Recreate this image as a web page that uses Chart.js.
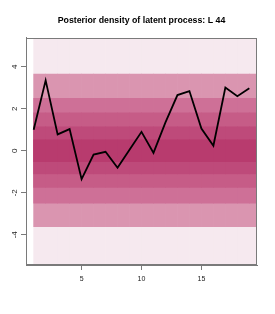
<!DOCTYPE html>
<html>
<head>
<meta charset="utf-8">
<script src="https://cdn.jsdelivr.net/npm/chart.js@4/dist/chart.umd.min.js"></script>
<style>
  html, body { margin: 0; padding: 0; background: #fff; }
  #wrap { width: 275px; height: 314px; }
</style>
</head>
<body>
<div id="wrap"><canvas id="myChart" width="275" height="314"></canvas></div>
<script>
// time points of the latent process
var tiempos = [1, 2, 3, 4, 5, 6, 7, 8, 9, 10, 11, 12, 13, 14, 15, 16, 17, 18, 19];
// observed path (black line)
var latente = [1.0, 3.35, 0.78, 1.03, -1.35, -0.18, -0.05, -0.81, 0.05, 0.9, -0.1, 1.35, 2.65, 2.84, 1.06, 0.24, 3.01, 2.6, 2.97];
// nested posterior density bands, outermost first: lower and upper edges
var bandaInf = [-6, -3.62, -2.5, -1.75, -1.1, -0.52];
var bandaSup = [6, 3.65, 2.5, 1.8, 1.14, 0.52];
// tick labels
var ticksX = [5, 10, 15];
var ticksY = [-4, -2, 0, 2, 4];

var fuente = "'Liberation Sans', Arial, sans-serif";
var colores = ['#f6e9ef', '#da95b0', '#ce7097', '#c65c87', '#be4a7a', '#b83b6e'];

//Datasets de las bandas (la exterior se dibuja primero)
var datasets = [];
for (var b = 0; b < bandaInf.length; b++) {
      datasets.push({
            type: 'bar',
            data: tiempos.map(function (t) {
                  return { x: t + 0.5, y: [bandaInf[b], bandaSup[b]] };
            }),
            backgroundColor: colores[b],
            borderWidth: 0,
            grouped: false,
            barPercentage: 1,
            categoryPercentage: 1,
            order: bandaInf.length - b
      });
}

//Linea del proceso latente
datasets.push({
      type: 'line',
      data: tiempos.map(function (t, i) {
            return { x: t, y: latente[i] };
      }),
      borderColor: '#000',
      borderWidth: 1.8,
      pointRadius: 0,
      tension: 0,
      fill: false,
      order: 0
});

//Caja alrededor del area
const caja = {
      id: 'caja',
      afterDraw: function (chart) {
            var a = chart.chartArea;
            var ctx = chart.ctx;
            ctx.save();
            ctx.strokeStyle = '#7a7a7a';
            ctx.lineWidth = 1;
            ctx.strokeRect(Math.round(a.left) + 0.5, Math.round(a.top) + 0.5,
                  Math.round(a.right - a.left) - 1, Math.round(a.bottom - a.top) - 1);
            ctx.restore();
      }
};

const ctx = document.getElementById('myChart').getContext('2d');
let myChart = new Chart(ctx, {
      data: { datasets: datasets },
      plugins: [caja],
      options: {
            responsive: false,
            animation: false,
            layout: { padding: { left: 0, right: 18, top: 0, bottom: 0 } },
            plugins: {
                  legend: { display: false },
                  tooltip: { enabled: false },
                  title: {
                        display: true,
                        fullSize: false,
                        align: 'center',
                        text: 'Posterior density of latent process: L 44',
                        color: '#000',
                        font: { family: fuente, size: 8.8, weight: 'bold', lineHeight: 1.2 },
                        padding: { top: 15, bottom: 12.4 }
                  }
            },
            scales: {
                  x: {
                        type: 'linear',
                        offset: false,
                        min: 0.36,
                        max: 19.64,
                        afterBuildTicks: function (s) {
                              s.ticks = ticksX.map(function (v) { return { value: v }; });
                        },
                        afterFit: function (s) { s.height = 49; },
                        grid: { drawOnChartArea: false, offset: false, tickLength: 5, color: '#7a7a7a' },
                        border: { color: '#7a7a7a' },
                        ticks: {
                              autoSkip: false,
                              maxRotation: 0,
                              padding: 5,
                              color: '#222',
                              font: { family: fuente, size: 7 }
                        }
                  },
                  y: {
                        type: 'linear',
                        min: -5.44,
                        max: 5.37,
                        afterBuildTicks: function (s) {
                              s.ticks = ticksY.map(function (v) { return { value: v }; });
                        },
                        afterFit: function (s) { s.width = 26; },
                        grid: { drawOnChartArea: false, tickLength: 5, color: '#7a7a7a' },
                        border: { color: '#7a7a7a' },
                        ticks: {
                              autoSkip: false,
                              minRotation: 90,
                              maxRotation: 90,
                              crossAlign: 'center',
                              padding: 3,
                              color: '#222',
                              font: { family: fuente, size: 8 }
                        }
                  }
            }
      }
});
</script>
</body>
</html>
